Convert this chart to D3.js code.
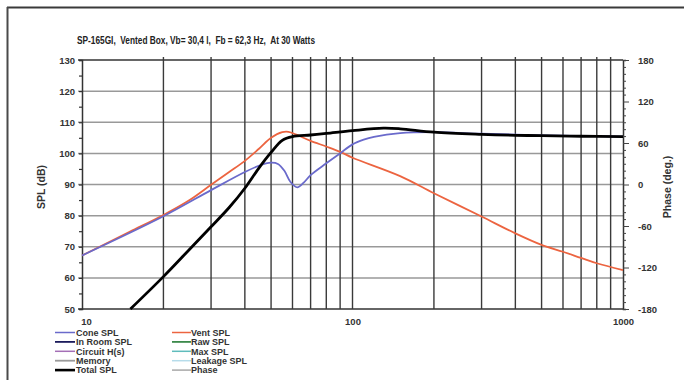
<!DOCTYPE html>
<html><head><meta charset="utf-8">
<script src="https://cdn.jsdelivr.net/npm/d3@7"></script>
<style>
body{margin:0;background:#fff;}
svg{display:block;font-family:"Liberation Sans",Arial,sans-serif;}
</style></head>
<body><svg id="c" width="690" height="380"></svg>
<script>
const title = "SP-165GI,  Vented Box, Vb= 30,4 l,  Fb = 62,3 Hz,  At 30 Watts";
const splTicks = [50,60,70,80,90,100,110,120,130];
const phaseTicks = [-180,-120,-60,0,60,120,180];
const freqLabels = [10,100,1000];
const freqGrid = [20,30,40,50,60,70,80,90,100,200,300,400,500,600,700,800,900];

const ventFreq = [10,15,20,25,30,35,40,45,50,55,58,62,70,80,90,100,150,200,300,400,500,600,700,800,1000];
const ventSPL  = [67.2,74.8,80.2,85.0,89.9,94.0,97.6,101.4,105.0,106.8,106.9,106.0,104.0,102.2,100.5,98.6,92.7,87.2,79.7,74.3,70.6,68.4,66.4,64.7,62.5];

const coneFreq = [10,20,30,40,45,50,53,56,59,62.5,66,70,80,90,100,110,120,150,200,300,500,1000];
const coneSPL  = [67.2,79.8,88.2,94.0,96.0,97.0,96.6,94.4,90.8,89.1,90.6,93.0,96.8,100.0,102.9,104.4,105.3,106.5,106.8,106.3,105.8,105.4];

const totalFreq = [15.1,20,25,30,35,40,45,50,55,60,70,80,100,130,150,200,300,400,500,700,1000];
const totalSPL  = [50,60.4,69.2,76.4,82.6,88.8,95.2,100.3,104.2,105.4,105.9,106.4,107.3,108.1,107.9,106.8,106.1,105.8,105.7,105.5,105.4];

const legendLeft = [
  {name:"Cone SPL", color:"#6a6acb", w:1.5},
  {name:"In Room SPL", color:"#1c1c5c", w:1.8},
  {name:"Circuit H(s)", color:"#a46fb6", w:1.5},
  {name:"Memory", color:"#9a9a9a", w:1.8},
  {name:"Total SPL", color:"#000000", w:2.6}
];
const legendRight = [
  {name:"Vent SPL", color:"#ec6440", w:1.5},
  {name:"Raw SPL", color:"#3c8a4c", w:1.8},
  {name:"Max SPL", color:"#5fbcbc", w:1.5},
  {name:"Leakage SPL", color:"#b6dcea", w:1.5},
  {name:"Phase", color:"#a8a8a8", w:1.5}
];

const svg = d3.select("#c");
const x = d3.scaleLog().domain([10,1000]).range([82,623]);
const y = d3.scaleLinear().domain([50,130]).range([309,60]);
const yp = d3.scaleLinear().domain([-180,180]).range([309,60]);

// frame
svg.append("line").attr("x1",7).attr("x2",684).attr("y1",7.5).attr("y2",7.5).attr("stroke","#3a3a3a").attr("stroke-width",2);
svg.append("line").attr("x1",7.5).attr("x2",7.5).attr("y1",7).attr("y2",380).attr("stroke","#4a4a4a").attr("stroke-width",2);

// title
svg.append("text").attr("x",77).attr("y",44).attr("font-size",11.5).attr("font-weight","bold")
  .attr("fill","#222").attr("textLength",238).attr("lengthAdjust","spacingAndGlyphs")
  .style("white-space","pre").text(title);

// horizontal grid
svg.append("g").selectAll("line").data(splTicks).join("line")
  .attr("x1",78).attr("x2",623).attr("y1",d=>y(d)).attr("y2",d=>y(d))
  .attr("stroke",d=>(d===130||d===50)?"#333":"#999").attr("stroke-width",1.5);

// vertical grid
svg.append("g").selectAll("line").data(freqGrid).join("line")
  .attr("x1",d=>x(d)).attr("x2",d=>x(d)).attr("y1",57).attr("y2",y(50))
  .attr("stroke","#3a3a3a").attr("stroke-width",1.4);

// left axis
const la = svg.append("g").attr("transform","translate(82,0)")
  .call(d3.axisLeft(y).tickValues(d3.range(50,131,5)).tickSize(3).tickPadding(4)
    .tickFormat(d=>d%10===0?d:""));
la.select(".domain").attr("stroke","#333").attr("stroke-width",1.5);
la.selectAll(".tick line").attr("stroke","#333").attr("stroke-width",1.2);
la.selectAll("text").attr("font-size",9.5).attr("font-weight","bold").attr("fill","#333");

// right axis
const ra = svg.append("g").attr("transform","translate(623,0)")
  .call(d3.axisRight(yp).tickValues(d3.range(-180,181,10)).tickSize(3).tickPadding(12)
    .tickFormat(d=>phaseTicks.includes(d)?d:""));
ra.select(".domain").attr("stroke","#333").attr("stroke-width",1.5);
ra.selectAll(".tick line").attr("stroke","#444").attr("stroke-width",1);
ra.selectAll(".tick").filter(d=>phaseTicks.includes(d)).select("line").attr("x2",6);
ra.selectAll("text").attr("font-size",9.5).attr("font-weight","bold").attr("fill","#333");

// bottom labels
const ba = svg.append("g").attr("transform",`translate(0,${y(50)})`)
  .call(d3.axisBottom(x).tickValues(freqLabels).tickSize(0).tickPadding(9).tickFormat(d3.format("d")));
ba.select(".domain").remove();
ba.selectAll("text").attr("font-size",9.5).attr("font-weight","bold").attr("fill","#333");
ba.selectAll(".tick").filter(d=>d===10).select("text").attr("dx",4);

// axis titles
svg.append("text").attr("transform","translate(45,187) rotate(-90)").attr("text-anchor","middle")
  .attr("font-size",10.5).attr("font-weight","bold").attr("fill","#333").text("SPL (dB)");
svg.append("text").attr("transform","translate(671,187) rotate(-90)").attr("text-anchor","middle")
  .attr("font-size",10.5).attr("font-weight","bold").attr("fill","#333").text("Phase (deg.)");

// curves
const line = d3.line().x(d=>x(d[0])).y(d=>y(d[1])).curve(d3.curveCatmullRom.alpha(0.5));
const zip = (a,b)=>a.map((v,i)=>[v,b[i]]);
svg.append("path").attr("d",line(zip(ventFreq,ventSPL))).attr("fill","none").attr("stroke","#ec6440").attr("stroke-width",1.8);
svg.append("path").attr("d",line(zip(coneFreq,coneSPL))).attr("fill","none").attr("stroke","#6a6acb").attr("stroke-width",1.8);
svg.append("path").attr("d",line(zip(totalFreq,totalSPL))).attr("fill","none").attr("stroke","#000").attr("stroke-width",2.8);

// legend
function legend(items,x0,x1,tx){
  const g = svg.append("g").selectAll("g").data(items).join("g")
    .attr("transform",(d,i)=>`translate(0,${332.5+i*9.4})`);
  g.append("line").attr("x1",x0).attr("x2",x1).attr("stroke",d=>d.color).attr("stroke-width",d=>d.w);
  g.append("text").attr("x",tx).attr("y",3.3).attr("font-size",9).attr("font-weight","bold")
    .attr("fill","#333").text(d=>d.name);
}
legend(legendLeft,55,75,76);
legend(legendRight,172,191,191);
</script></body></html>
